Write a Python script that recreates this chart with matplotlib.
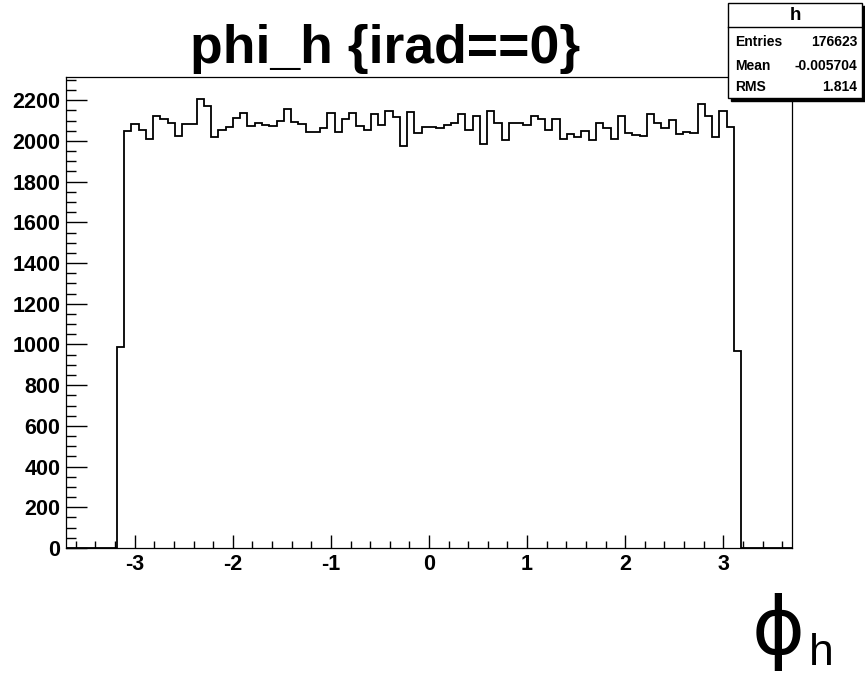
import matplotlib
matplotlib.use("Agg")
import matplotlib.pyplot as plt
from matplotlib.patches import Rectangle
from matplotlib.lines import Line2D
from matplotlib.ticker import MultipleLocator
import numpy as np

# ---- data ----
x_min, x_max, n_bins = -3.7, 3.7, 100
first_bin = 7
bin_counts = [
    989, 2049, 2085, 2055, 2011, 2121, 2108, 2090, 2026, 2083,
    2083, 2204, 2170, 2018, 2052, 2068, 2112, 2139, 2073, 2090,
    2078, 2072, 2098, 2157, 2091, 2081, 2042, 2042, 2062, 2137,
    2044, 2109, 2135, 2072, 2055, 2130, 2076, 2147, 2119, 1973,
    2140, 2037, 2070, 2070, 2063, 2080, 2086, 2134, 2055, 2124,
    1987, 2147, 2088, 2004, 2088, 2088, 2076, 2124, 2108, 2054,
    2109, 2011, 2034, 2019, 2050, 2004, 2090, 2063, 2009, 2124,
    2041, 2027, 2024, 2132, 2090, 2065, 2103, 2032, 2045, 2039,
    2181, 2124, 2021, 2147, 2067, 970,
]
title_text = "phi_h {irad==0}"
stats_name = "h"
stats_labels = ["Entries", "Mean", "RMS"]
stats_values = ["176623", "-0.005704", "1.814"]

counts = np.zeros(n_bins)
counts[first_bin:first_bin + len(bin_counts)] = bin_counts
edges = np.linspace(x_min, x_max, n_bins + 1)

plt.rcParams['axes.unicode_minus'] = False
bold_font = "Liberation Sans"

W, H = 865, 675
fig = plt.figure(figsize=(W / 100, H / 100), dpi=100)

def fx(x):
    return x / W

def fy(y):
    return 1 - y / H

ax = fig.add_axes([fx(66), fy(548), fx(792) - fx(66), fy(77) - fy(548)])
ax.stairs(counts, edges, color="black", linewidth=1.3, baseline=0)
ax.set_xlim(x_min, x_max)
ax.set_ylim(0, 1.05 * counts.max())

ax.xaxis.set_major_locator(MultipleLocator(1))
ax.xaxis.set_minor_locator(MultipleLocator(0.2))
ax.yaxis.set_major_locator(MultipleLocator(200))
ax.yaxis.set_minor_locator(MultipleLocator(50))
ax.tick_params(axis='x', which='major', direction='in', length=9.5, width=1, pad=4)
ax.tick_params(axis='x', which='minor', direction='in', length=5, width=1)
ax.tick_params(axis='y', which='major', direction='in', length=15, width=1, pad=4)
ax.tick_params(axis='y', which='minor', direction='in', length=7.5, width=1)
for lab in ax.get_xticklabels() + ax.get_yticklabels():
    lab.set_fontfamily(bold_font)
    lab.set_fontweight('bold')
    lab.set_fontsize(15.5)
for sp in ax.spines.values():
    sp.set_linewidth(0.9)

# title
fig.text(fx(385.5), fy(63), title_text, ha='center', va='baseline',
         fontsize=38.5, fontweight='bold', family=bold_font)

# x axis label phi_h
fig.text(fx(778), fy(632), "\u03d5", ha='center', va='center',
         fontsize=58, family='DejaVu Sans')
fig.text(fx(809), fy(674), "h", ha='left', va='bottom',
         fontsize=32, family=bold_font)

# stats box
bx0, bx1, by0, by1 = 728, 862, 3, 98
fig.patches.append(Rectangle((fx(bx0 + 3), fy(by1 + 3)), fx(bx1) - fx(bx0), fy(by0) - fy(by1),
                             transform=fig.transFigure, facecolor='black', edgecolor='black',
                             zorder=10))
fig.patches.append(Rectangle((fx(bx0), fy(by1)), fx(bx1) - fx(bx0), fy(by0) - fy(by1),
                             transform=fig.transFigure, facecolor='white', edgecolor='black',
                             linewidth=1, zorder=11))
fig.lines.append(Line2D([fx(bx0), fx(bx1)], [fy(27), fy(27)], transform=fig.transFigure,
                        color='black', linewidth=1, zorder=12))
fig.text(fx((bx0 + bx1) / 2), fy(15), stats_name, ha='center', va='center',
         fontsize=13.5, fontweight='bold', family=bold_font, zorder=13)
row_y = [42, 66, 87]
for lab, val, yy in zip(stats_labels, stats_values, row_y):
    fig.text(fx(735), fy(yy), lab, ha='left', va='center', fontsize=10,
             fontweight='bold', family=bold_font, zorder=13)
    fig.text(fx(857), fy(yy), val, ha='right', va='center', fontsize=10,
             fontweight='bold', family=bold_font, zorder=13)

fig.savefig("out.png", dpi=100)
